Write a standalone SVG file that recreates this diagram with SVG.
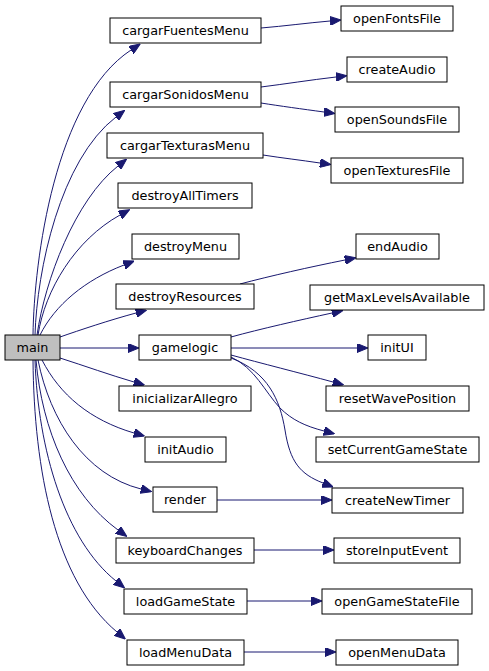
<svg xmlns="http://www.w3.org/2000/svg" width="489" height="671" viewBox="0 0 489 671">
<style>
.n rect{fill:#ffffff;stroke:#000000;stroke-width:1}
.n text{font-family:"DejaVu Sans",sans-serif;font-size:12.8px;fill:#000000;text-anchor:middle}
#main rect{fill:#bfbfbf}
.e path{fill:none;stroke:#191970;stroke-width:1;marker-end:url(#ah)}
</style>
<defs>
<marker id="ah" viewBox="0 0 11 9" refX="0" refY="4.5" markerWidth="11" markerHeight="9" markerUnits="userSpaceOnUse" orient="auto">
<path d="M0,0 L11,4.5 L0,9 Z" fill="#191970" stroke="#191970" stroke-width="1"/>
</marker>
</defs>
<rect width="489" height="671" fill="#ffffff"/>
<g id="edges" class="e">
<path d="M33,335 C34,260 55,100 131,50"/>
<path d="M35,335 C37,270 60,160 116,117"/>
<path d="M37,335 C45,280 75,200 118,166"/>
<path d="M38,335 C45,290 75,240 120,215"/>
<path d="M40,335 C55,305 85,280 124,265"/>
<path d="M60,337 C80,330 110,320 136,313"/>
<path d="M60,348 L128,348"/>
<path d="M60,358 C85,366 110,375 134,382"/>
<path d="M42,360 C60,395 90,420 134,433"/>
<path d="M38,360 C50,420 85,475 141,489"/>
<path d="M36,360 C42,430 70,495 118,530"/>
<path d="M35,360 C38,450 65,540 116,581"/>
<path d="M33,360 C34,470 55,580 117,632"/>
<path d="M261,28 C285,26 307,23 330,21"/>
<path d="M261,87 C285,84 310,80 336,77"/>
<path d="M261,103 C280,106 302,109 324,112"/>
<path d="M263,155 C282,158 300,160 320,163"/>
<path d="M240,284 C270,276 310,267 345,260"/>
<path d="M231,337 C260,329 300,320 332,313"/>
<path d="M231,348 L357,348"/>
<path d="M231,355 C260,363 300,373 333,382"/>
<path d="M231,357 C255,368 265,392 280,408 C292,420 305,426 324,431"/>
<path d="M231,358 C268,372 280,400 285,430 C290,462 300,474 323,483"/>
<path d="M217,500 L321,500"/>
<path d="M254,550 L323,550"/>
<path d="M247,601 L311,601"/>
<path d="M244,652 L325,652"/>
</g>
<g id="main" class="n"><rect x="5" y="335" width="55" height="25"/><text x="32.5" y="352">main</text></g>
<g id="cargarFuentesMenu" class="n"><rect x="110" y="18" width="151" height="25"/><text x="185.5" y="35">cargarFuentesMenu</text></g>
<g id="openFontsFile" class="n"><rect x="341" y="6" width="112" height="25"/><text x="397" y="23">openFontsFile</text></g>
<g id="cargarSonidosMenu" class="n"><rect x="110" y="82" width="151" height="25"/><text x="185.5" y="99">cargarSonidosMenu</text></g>
<g id="createAudio" class="n"><rect x="347" y="57" width="100" height="25"/><text x="397" y="74">createAudio</text></g>
<g id="openSoundsFile" class="n"><rect x="335" y="107" width="124" height="25"/><text x="397" y="124">openSoundsFile</text></g>
<g id="cargarTexturasMenu" class="n"><rect x="107" y="133" width="156" height="25"/><text x="185" y="150">cargarTexturasMenu</text></g>
<g id="openTexturesFile" class="n"><rect x="331" y="158" width="132" height="25"/><text x="397" y="175">openTexturesFile</text></g>
<g id="destroyAllTimers" class="n"><rect x="118" y="183" width="134" height="25"/><text x="185" y="200">destroyAllTimers</text></g>
<g id="destroyMenu" class="n"><rect x="132" y="234" width="107" height="25"/><text x="185.5" y="251">destroyMenu</text></g>
<g id="destroyResources" class="n"><rect x="116" y="284" width="138" height="25"/><text x="185" y="301">destroyResources</text></g>
<g id="endAudio" class="n"><rect x="356" y="234" width="83" height="25"/><text x="397.5" y="251">endAudio</text></g>
<g id="gamelogic" class="n"><rect x="139" y="335" width="92" height="25"/><text x="185" y="352">gamelogic</text></g>
<g id="getMaxLevelsAvailable" class="n"><rect x="310" y="285" width="174" height="25"/><text x="397" y="302">getMaxLevelsAvailable</text></g>
<g id="initUI" class="n"><rect x="368" y="335" width="58" height="25"/><text x="397" y="352">initUI</text></g>
<g id="inicializarAllegro" class="n"><rect x="119" y="386" width="132" height="25"/><text x="185" y="403">inicializarAllegro</text></g>
<g id="resetWavePosition" class="n"><rect x="326" y="386" width="143" height="25"/><text x="397.5" y="403">resetWavePosition</text></g>
<g id="setCurrentGameState" class="n"><rect x="316" y="437" width="163" height="25"/><text x="397.5" y="454">setCurrentGameState</text></g>
<g id="initAudio" class="n"><rect x="145" y="437" width="81" height="25"/><text x="185.5" y="454">initAudio</text></g>
<g id="render" class="n"><rect x="153" y="487" width="64" height="25"/><text x="185" y="504">render</text></g>
<g id="createNewTimer" class="n"><rect x="332" y="488" width="131" height="25"/><text x="397.5" y="505">createNewTimer</text></g>
<g id="keyboardChanges" class="n"><rect x="116" y="538" width="138" height="25"/><text x="185" y="555">keyboardChanges</text></g>
<g id="storeInputEvent" class="n"><rect x="334" y="538" width="126" height="25"/><text x="397" y="555">storeInputEvent</text></g>
<g id="loadGameState" class="n"><rect x="124" y="589" width="123" height="25"/><text x="185.5" y="606">loadGameState</text></g>
<g id="openGameStateFile" class="n"><rect x="322" y="589" width="150" height="25"/><text x="397" y="606">openGameStateFile</text></g>
<g id="loadMenuData" class="n"><rect x="127" y="640" width="117" height="25"/><text x="185.5" y="657">loadMenuData</text></g>
<g id="openMenuData" class="n"><rect x="336" y="640" width="122" height="25"/><text x="397" y="657">openMenuData</text></g>
</svg>
